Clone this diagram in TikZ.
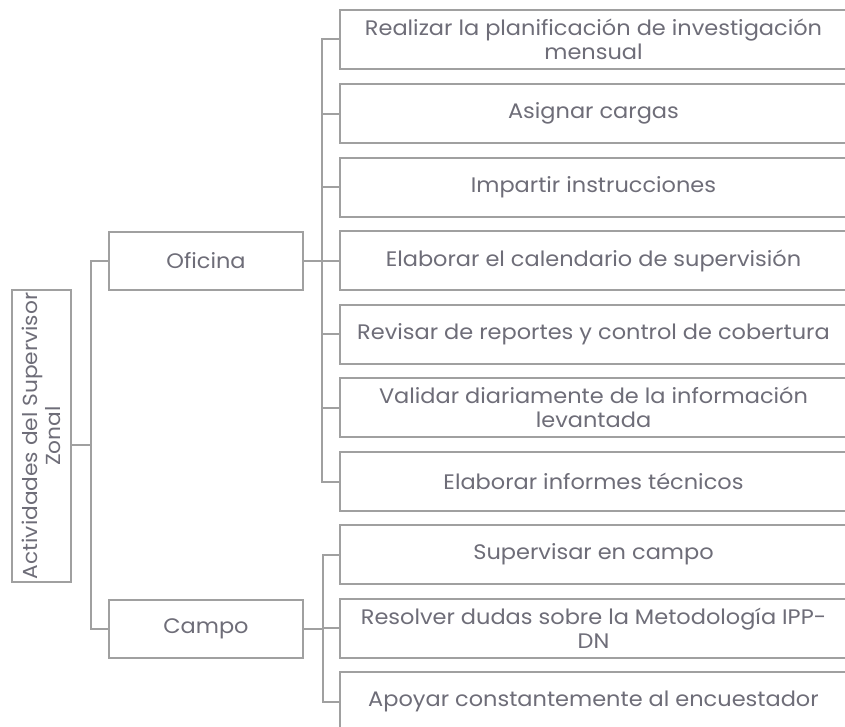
\documentclass[tikz,border=0pt]{standalone}
\usepackage{fontspec}
\setmainfont{Poppins}[FakeStretch=1.07]
\definecolor{linegray}{HTML}{A0A0A0}
\definecolor{txtgray}{HTML}{6E6D78}
\begin{document}
\begin{tikzpicture}[x=1pt,y=-1pt,
  box/.style={draw=linegray,line width=2pt,fill=white,text=txtgray,align=center,
    inner sep=0pt,font=\fontsize{21}{24}\selectfont},
  rbox/.style={box,minimum width=507pt,minimum height=59pt},
  mbox/.style={box,minimum width=194pt,minimum height=58pt},
  conn/.style={draw=linegray,line width=2pt}]
\useasboundingbox (0,0) rectangle (845,726);
\clip (0,0) rectangle (845,726);
% root
\node[box,rotate=90,minimum width=292pt,minimum height=59pt,font=\fontsize{20.3}{23}\selectfont] (root) at (41.5,436) {Actividades del Supervisor\\Zonal};
% middle
\node[mbox] (ofi) at (206,261) {Oficina};
\node[mbox] (cam) at (206,629) {Campo};
% right column
\node[rbox] (b1) at (593.5,39) {Realizar la planificación de investigación\\mensual};
\node[rbox] (b2) at (593.5,113.5) {Asignar cargas};
\node[rbox] (b3) at (593.5,187) {Impartir instrucciones};
\node[rbox] (b4) at (593.5,260.5) {Elaborar el calendario de supervisión};
\node[rbox] (b5) at (593.5,334) {Revisar de reportes y control de cobertura};
\node[rbox] (b6) at (593.5,407.5) {Validar diariamente de la información\\levantada};
\node[rbox] (b7) at (593.5,481.5) {Elaborar informes técnicos};
\node[rbox] (c1) at (593.5,554.5) {Supervisar en campo};
\node[rbox] (c2) at (593.5,628) {Resolver dudas sobre la Metodología IPP-\\DN};
\node[rbox] (c3) at (593.5,701.5) {Apoyar constantemente al encuestador};
% junctions
\coordinate (rj) at (91,445);
\coordinate (oj) at (322,261);
\coordinate (cj) at (323,629);
\draw[conn] (root.south |- rj) -- (rj);
\draw[conn] (rj) |- (ofi.west);
\draw[conn] (rj) |- (cam.west);
\draw[conn] (ofi.east) -- (oj);
\foreach \n in {b1,b2,b3,b4,b5,b6,b7} \draw[conn] (oj) |- (\n.west);
\draw[conn] (cam.east) -- (cj);
\foreach \n in {c1,c2,c3} \draw[conn] (cj) |- (\n.west);
\end{tikzpicture}
\end{document}
